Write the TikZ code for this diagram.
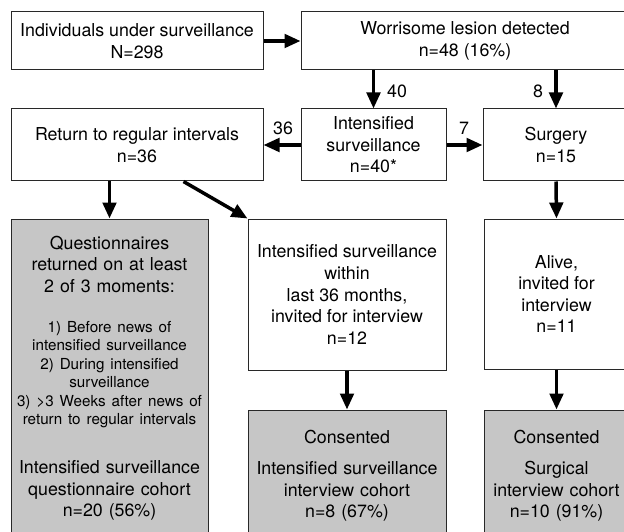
\documentclass[tikz,border=0pt]{standalone}
\usepackage{fontspec}
\setmainfont{TeX Gyre Heros}
\usetikzlibrary{arrows.meta,calc}
\newcommand\bigf{\fontsize{17.8}{21.6}\selectfont}
\newcommand\smallf{\fontsize{15.2}{18.4}\selectfont}
\definecolor{boxgray}{RGB}{198,198,198}
\definecolor{edge}{RGB}{40,40,40}
\begin{document}
\begin{tikzpicture}[x=1pt,y=-1pt,
  box/.style={draw=edge, line width=1pt, rectangle, inner sep=0pt, align=center, font=\bigf},
  graybox/.style={box, fill=boxgray},
  txt/.style={inner sep=0pt, align=center, anchor=north, font={\bigf\parindent=0pt}},
  arr/.style={line width=3.5pt, -{Triangle[length=16pt,width=13.5pt]}},
  lbl/.style={font=\bigf, inner sep=0pt}]
\useasboundingbox (0,0) rectangle (624,532);
% row 1
\node[box, minimum width=252pt, minimum height=58pt] (b1) at (137,41) {Individuals under surveillance\\N=298};
\node[box, minimum width=328pt, minimum height=58pt] (b2) at (465,41) {Worrisome lesion detected\\n=48 (16\%)};
% row 2
\node[box, minimum width=252pt, minimum height=72pt] (ret) at (137,145) {Return to regular intervals\\n=36};
\node[box, minimum width=145pt, minimum height=72pt] (is) at (373.5,145) {Intensified\\surveillance\\n=40*};
\node[box, minimum width=146pt, minimum height=72pt] (sur) at (556,145) {Surgery\\n=15};
% row 3
\node[graybox, minimum width=197pt, minimum height=326pt] (q) at (109.5,382) {};
\node[txt, text width=195pt] (qt) at (109.5,235.8) {Questionnaires\\returned on at least\\2 of 3 moments:\par
\vspace{21.6pt}
{\smallf 1) Before news of\\intensified surveillance\\2) During intensified\\surveillance\\3) >3 Weeks after news of\\return to regular intervals\par}
\vspace{27.4pt}
Intensified surveillance\\questionnaire cohort\\n=20 (56\%)};
\node[box, minimum width=198pt, minimum height=151pt] (iw) at (347,294.5) {Intensified surveillance\\within\\last 36 months,\\invited for interview\\n=12};
\node[box, minimum width=145pt, minimum height=150pt] (al) at (556.5,294) {Alive,\\invited for\\interview\\n=11};
% row 4
\node[graybox, minimum width=198pt, minimum height=135pt] (c1) at (347,477.5) {};
\node[txt, text width=196pt] (c1t) at (347,430) {Consented\par\vspace{9.4pt}
Intensified surveillance\\interview cohort\\n=8 (67\%)};
\node[graybox, minimum width=145pt, minimum height=135pt] (c2) at (556.5,477.5) {};
\node[txt, text width=143pt] (c2t) at (556.5,430) {Consented\par\vspace{9.4pt}
Surgical\\interview cohort\\n=10 (91\%)};
% connectors
\draw[arr] (b1.east) -- (b2.west);
\draw[arr] (b2.south -| is.north) -- (is.north);
\draw[arr] (b2.south -| sur.north) -- (sur.north);
\draw[arr] (is.west) -- (ret.east);
\draw[arr] (is.east) -- (sur.west);
\draw[arr] (ret.south -| q.north) -- (q.north);
\draw[arr] ($(ret.south east)+(-80,0)$) -- (iw.north west);
\draw[arr] (iw.south) -- (c1.north);
\draw[arr] (sur.south) -- (al.north);
\draw[arr] (al.south) -- (c2.north);
% labels
\node[lbl] (l40) at (397,91) {40};
\node[lbl] (l8) at (538,91) {8};
\node[lbl] (l36) at (283,128) {36};
\node[lbl] (l7) at (464,128) {7};
\end{tikzpicture}
\end{document}
